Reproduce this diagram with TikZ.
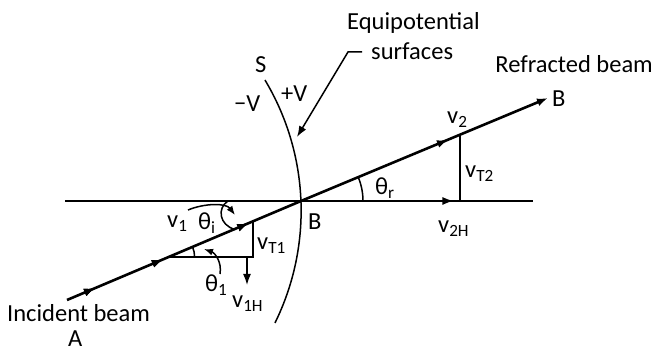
\documentclass[tikz,border=0pt]{standalone}
\usepackage{fontspec}
\setmainfont{Carlito}
\usetikzlibrary{arrows.meta,decorations.markings}
\begin{document}
\begin{tikzpicture}[x=1pt,y=1pt,
  lbl/.style={inner sep=0pt, anchor=base west, font=\fontsize{24.5}{28}\selectfont},
  thinline/.style={line width=1.5pt},
  beam/.style={line width=2.6pt},
  tipped/.style={-{Latex[length=11pt,width=8pt]}},
  smalltip/.style={-{Latex[length=9pt,width=7pt]}},
  midarrow/.style={postaction=decorate, decoration={markings, mark=at position #1 with {\arrow{Latex[length=11pt,width=8pt]}}}}
]
\useasboundingbox (0,0) rectangle (657,-352);
% key points
\coordinate (A0) at (67,-300);
\coordinate (B) at (301,-201);
\coordinate (Bend) at (548,-98);
\coordinate (H0) at (65,-201);
\coordinate (H1) at (533,-201);
\coordinate (Sc) at (47.15,-210.67);
% horizontal line
\draw[thinline, midarrow=0.83] (H0) -- (H1);
% surface S
\draw[thinline] (Sc) ++(30.96:254) coordinate (Stop) arc[start angle=30.96, end angle=-26.24, radius=254] coordinate (Sbot);
% incident beam
\draw[beam, midarrow=0.12, midarrow=0.41, midarrow=0.775] (A0) -- (B);
% refracted beam
\draw[beam, tipped, midarrow=0.595] (B) -- (Bend);
% v1 triangle
\coordinate (P1) at (253,-221.3);
\coordinate (Q1) at (253,-257);
\coordinate (R1) at (168.6,-257);
\draw[thinline] (P1) -- (Q1) -- (R1);
\coordinate (V1a) at (247,-257);
\coordinate (V1b) at (247,-285);
\draw[thinline, tipped] (V1a) -- (V1b);
% theta1 arc and arrow
\draw[thinline] (R1) ++(0:26) arc[start angle=0, end angle=22.9, radius=26];
\coordinate (T1a) at (220,-274);
\coordinate (T1b) at (204,-249);
\draw[thinline, smalltip] (T1a) .. controls (222,-262) and (215,-253) .. (T1b);
% theta i arrow and arc
\coordinate (Tia) at (188,-210);
\coordinate (Tib) at (235,-215);
\draw[thinline, smalltip] (Tia) .. controls (205,-203) and (226,-203) .. (Tib);
\coordinate (Ci0) at (228,-201);
\coordinate (Ci1) at (235,-229.5);
\draw[thinline] (Ci0) .. controls (217,-208) and (219,-225) .. (Ci1);
% vT2
\coordinate (P2) at (460,-134.7);
\coordinate (Q2) at (460,-201);
\draw[thinline] (P2) -- (Q2);
% theta r arc
\draw[thinline] (B) ++(0:62) arc[start angle=0, end angle=22.6, radius=62];
% leader
\coordinate (L0) at (362,-52);
\coordinate (L1) at (348,-52);
\coordinate (L2) at (297,-137);
\draw[thinline, tipped] (L0) -- (L1) -- (L2);
% labels
\node[lbl] (nEq) at (347,-30) {Equipotential};
\node[lbl] (nSurf) at (371,-60) {surfaces};
\node[lbl, anchor=base east] (nRef) at (653,-73) {Refracted beam};
\node[lbl] (nB2) at (552,-107) {B};
\node[lbl] (nS) at (255,-73) {S};
\node[lbl] (nmV) at (234,-112) {−V};
\node[lbl] (npV) at (281,-102) {+V};
\node[lbl] (nv2) at (447,-124) {v\textsubscript{2}};
\node[lbl] (nvT2) at (465,-178) {v\textsubscript{T2}};
\node[lbl] (nv2H) at (438,-233) {v\textsubscript{2H}};
\node[lbl] (nthr) at (375,-195) {θ\textsubscript{r}};
\node[lbl] (nB) at (308,-230) {B};
\node[lbl] (nv1) at (167,-228) {v\textsubscript{1}};
\node[lbl] (nthi) at (198,-230) {θ\textsubscript{i}};
\node[lbl] (nvT1) at (257,-250) {v\textsubscript{T1}};
\node[lbl] (nth1) at (205,-292) {θ\textsubscript{1}};
\node[lbl] (nv1H) at (232,-308) {v\textsubscript{1H}};
\node[lbl] (nInc) at (7,-322) {Incident beam};
\node[lbl] (nA) at (68,-347) {A};
\end{tikzpicture}
\end{document}
